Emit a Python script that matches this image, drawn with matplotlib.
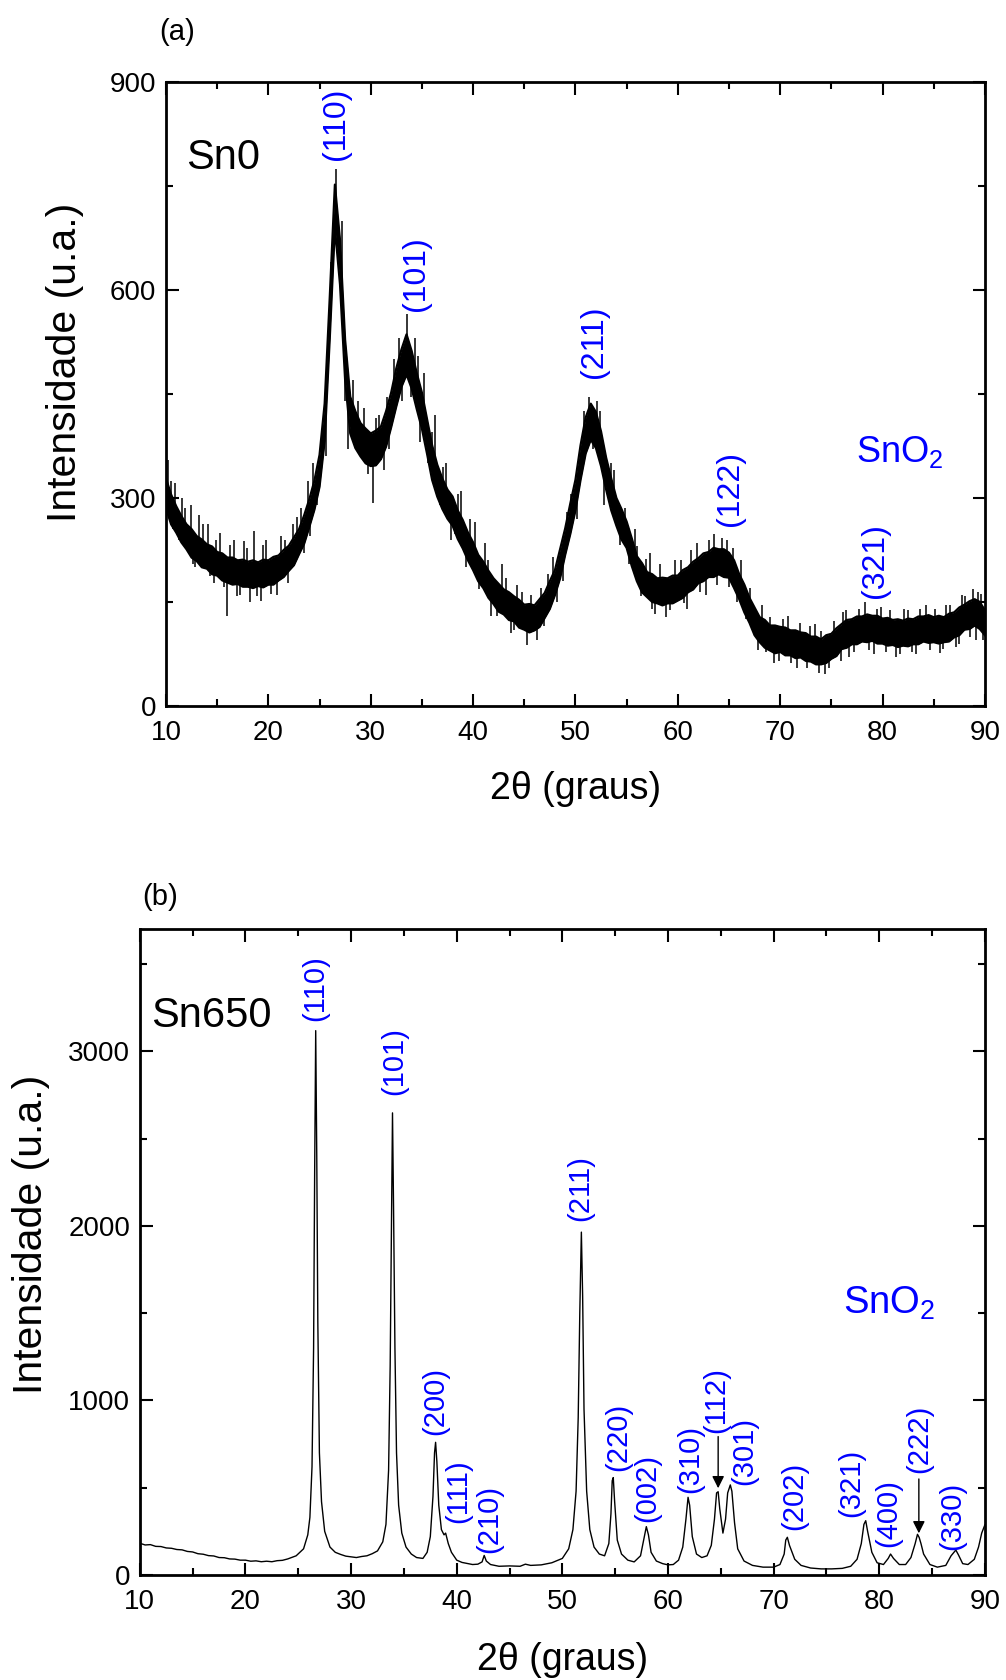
import numpy as np
import matplotlib
matplotlib.use("Agg")
import matplotlib.pyplot as plt

plt.rcParams['font.family'] = ['Liberation Sans', 'DejaVu Sans']
plt.rcParams['mathtext.fontset'] = 'custom'
plt.rcParams['mathtext.rm'] = 'Liberation Sans'
plt.rcParams['mathtext.it'] = 'Liberation Sans'

# ---- (a) Sn0 : noisy band, read as lower / upper edge every 0.5 deg (10 ... 90) ----
two_theta_a = np.arange(10.0, 90.01, 0.5)
low_a = [285, 262, 250, 236, 226, 214, 209, 200, 198, 190,
         188, 181, 178, 175, 176, 172, 172, 170, 173, 171,
         175, 175, 181, 186, 195, 203, 219, 234, 258, 283,
         316, 382, 530, 690, 608, 470, 393, 372, 360, 350,
         346, 347, 356, 374, 402, 432, 460, 478, 458, 428,
         400, 364, 326, 302, 284, 270, 260, 241, 227, 210,
         196, 180, 170, 156, 147, 136, 132, 124, 122, 113,
         110, 106, 109, 114, 127, 140, 160, 184, 218, 248,
         282, 326, 364, 384, 372, 346, 312, 282, 260, 240,
         228, 202, 180, 164, 157, 150, 148, 145, 148, 148,
         152, 156, 164, 168, 177, 180, 186, 186, 190, 186,
         185, 170, 154, 135, 120, 102, 92, 84, 80, 76,
         78, 73, 73, 69, 70, 65, 64, 60, 60, 62,
         68, 72, 82, 84, 89, 89, 93, 92, 94, 90,
         90, 87, 88, 85, 87, 86, 89, 89, 93, 91,
         92, 90, 92, 93, 99, 102, 110, 111, 116, 111,
         102]
high_a = [328, 305, 288, 274, 262, 255, 245, 240, 233, 230,
          222, 220, 214, 214, 210, 211, 208, 210, 207, 211,
          210, 215, 217, 225, 231, 243, 255, 275, 298, 325,
          362, 436, 590, 752, 672, 528, 446, 425, 408, 400,
          393, 397, 403, 425, 452, 487, 514, 536, 512, 480,
          452, 414, 376, 348, 328, 312, 302, 282, 268, 250,
          236, 218, 208, 195, 184, 176, 168, 164, 158, 153,
          146, 147, 145, 154, 163, 180, 196, 226, 256, 292,
          326, 376, 416, 436, 424, 396, 358, 328, 300, 284,
          266, 242, 216, 206, 193, 190, 184, 185, 184, 188,
          188, 196, 200, 208, 213, 220, 222, 228, 226, 226,
          221, 210, 190, 175, 156, 142, 128, 124, 116, 116,
          114, 113, 109, 109, 106, 105, 100, 100, 96, 102,
          104, 112, 118, 124, 125, 129, 129, 132, 130, 130,
          126, 127, 124, 125, 123, 126, 125, 129, 129, 131,
          128, 130, 128, 133, 135, 142, 146, 151, 154, 150,
          138]
# single noise spikes sticking out of the band: position and tip value
spike_x = [10.2, 10.9, 11.6, 12.4, 13.2, 14.1, 15.3, 16.6, 17.6, 18.6, 19.8, 21.2, 22.4,
           23.2, 23.9, 24.4, 25.2, 26.1, 26.6, 28.3, 29.3, 30.8, 31.6, 32.3, 33.5, 34.3,
           35.2, 36.3, 37.4, 38.8, 40.2, 41.2, 42.8, 44.3, 46.6, 47.8, 49.2, 50.8, 51.3,
           52.4, 53.8, 55.8, 57.3, 59.7, 61.9, 63.5, 64.8, 66.2, 68.2, 70.8, 73.4, 76.1,
           78.3, 79.9, 82.1, 84.2, 86.2, 87.8, 88.8, 89.6,
           10.7, 12.8, 14.7, 16.0, 16.9, 18.2, 19.3, 20.8, 24.8, 27.8, 30.2, 31.8, 34.8,
           37.8, 39.3, 41.8, 43.7, 45.3, 46.2, 48.8, 52.8, 55.2, 57.8, 58.8, 60.9, 62.8,
           65.8, 67.8, 69.4, 71.6, 73.8, 74.4, 76.7, 79.2, 81.3, 83.3, 85.6, 87.2, 89.1,
           10.45, 11.3, 11.9, 12.6, 13.6, 14.3, 14.9, 15.7, 16.3, 17.2, 17.9, 18.9, 19.5,
           20.3, 21.6, 21.9, 22.8, 23.5, 24.1, 25.6, 27.2, 27.5, 28.8, 29.7, 30.5, 31.3,
           32.8, 33.1, 33.9, 34.6, 35.6, 36.0, 36.8, 37.1, 38.2, 38.5, 39.7, 40.6, 41.5,
           42.3, 43.2, 44.0, 44.8, 45.7, 46.9, 47.3, 48.2, 49.6, 50.2, 51.7, 52.1, 53.2,
           53.5, 54.4, 54.8, 56.0, 56.4, 56.9, 57.5, 58.3, 59.2, 60.3, 60.6, 61.3, 62.2,
           63.0, 63.8, 64.3, 65.0, 65.4, 66.7, 67.1, 68.6, 69.0, 69.9, 70.3, 71.1, 71.9,
           72.6, 72.9, 74.0, 74.8, 75.3, 75.9, 76.4, 77.2, 77.7, 78.7, 79.5, 80.3, 80.7,
           81.7, 82.5, 82.9, 83.7, 84.6, 85.1, 85.9, 86.6, 87.5, 88.1, 88.5, 89.3, 89.8]
spike_tip = [355, 322, 300, 290, 275, 262, 250, 240, 238, 252, 240, 245, 262,
             285, 325, 350, 400, 640, 775, 470, 430, 420, 445, 500, 565, 530,
             480, 420, 350, 310, 265, 235, 205, 175, 170, 215, 280, 425, 445,
             425, 340, 255, 220, 210, 235, 248, 240, 210, 145, 130, 118, 135,
             150, 143, 140, 145, 145, 160, 168, 162,
             255, 200, 178, 130, 158, 150, 152, 160, 290, 370, 292, 370, 380,
             240, 200, 130, 105, 88, 95, 180, 290, 205, 132, 128, 140, 160,
             150, 80, 62, 55, 48, 46, 70, 75, 70, 75, 76, 85, 95,
             325, 240, 285, 205, 262, 188, 240, 172, 232, 160, 228, 158, 232,
             162, 240, 178, 272, 220, 245, 360, 700, 440, 440, 335, 415, 340,
             530, 440, 445, 505, 350, 395, 290, 345, 248, 305, 270, 168, 210,
             130, 185, 110, 165, 160, 115, 190, 150, 305, 270, 370, 440, 300,
             350, 232, 285, 230, 158, 212, 140, 205, 138, 210, 148, 225, 165,
             240, 175, 242, 172, 228, 125, 170, 78, 128, 65, 125, 62, 120,
             55, 115, 108, 55, 122, 65, 138, 78, 140, 80, 140, 78, 138,
             75, 138, 78, 140, 80, 140, 82, 145, 90, 158, 100, 165, 95]

hkl_a = ['(110)', '(101)', '(211)', '(122)', '(321)']
hkl_a_x = [26.65, 34.45, 51.8, 65.1, 79.25]
hkl_a_y = [788, 570, 473, 259, 156]

# ---- (b) Sn650 ----
two_theta_b = [10.0, 10.5, 11.0, 11.5, 12.0, 12.5, 13.0, 13.5, 14.0, 14.5, 15.0, 15.5, 16.0,
               16.5, 17.0, 17.5, 18.0, 18.5, 19.0, 19.5, 20.0, 20.5, 21.0, 21.5, 22.0, 22.5,
               23.0, 23.5, 24.0, 24.8,
               25.5, 25.9, 26.1, 26.3, 26.45, 26.55, 26.65, 26.75, 26.85, 27.0, 27.2, 27.5,
               28.0, 28.5, 29.0, 29.5, 30.0, 30.5, 31.0, 31.5, 32.0, 32.5, 33.0, 33.3, 33.55,
               33.7, 33.82, 33.92, 34.02, 34.15, 34.3, 34.5, 34.8, 35.2, 35.7, 36.2, 36.8,
               37.2, 37.5, 37.75, 37.9, 38.0, 38.12, 38.3, 38.55, 38.8, 38.95, 39.2, 39.5,
               40.0, 40.5, 41.0, 41.5, 42.0, 42.4, 42.6, 42.8, 43.2, 44.0, 45.0, 46.0, 46.5,
               47.0, 48.0, 49.0, 50.0, 50.6, 51.0, 51.3, 51.5, 51.65, 51.8, 51.92, 52.05,
               52.3, 52.6, 53.0, 53.5, 54.0, 54.4, 54.6, 54.72, 54.82, 54.95, 55.2, 55.6,
               56.2, 56.8, 57.4, 57.7, 57.95, 58.15, 58.4, 58.9, 59.5, 60.0, 60.5, 61.0,
               61.4, 61.7, 61.9, 62.05, 62.3, 62.7, 63.2, 63.7, 64.1, 64.4, 64.6, 64.75,
               64.9, 65.2, 65.45, 65.65, 65.9, 66.05, 66.3, 66.6, 67.2, 68.0, 69.0, 70.0,
               70.6, 71.0, 71.15, 71.3, 71.5, 72.0, 72.6, 73.5, 74.5, 75.5, 76.5, 77.3,
               77.9, 78.3, 78.55, 78.72, 78.9, 79.3, 79.8, 80.4, 80.85, 81.07, 81.35, 81.9,
               82.5, 83.0, 83.4, 83.62, 83.78, 83.95, 84.2, 84.8, 85.5, 86.3, 86.8, 87.25,
               87.5, 87.9, 88.4, 89.0, 89.4, 89.7, 90.0]
intensity_b = [182, 172, 174, 164, 163, 155, 153, 146, 144, 135, 132, 122, 119,
               111, 109, 100, 99, 92, 91, 85, 85, 79, 81, 76, 79, 76,
               82, 84, 92, 110,
               150, 230, 330, 620, 1300, 2300, 3118, 2400, 1450, 700, 420, 250,
               160, 130, 118, 108, 104, 100, 106, 110, 122, 138, 190, 290, 600,
               1200, 2000, 2647, 2100, 1300, 700, 400, 240, 160, 120, 100, 95,
               130, 220, 450, 700, 760, 650, 400, 260, 230, 240, 180, 130,
               85, 72, 66, 60, 62, 75, 112, 80, 60, 50, 52, 50, 62,
               55, 58, 70, 95, 150, 260, 480, 900, 1500, 1964, 1600, 950,
               480, 260, 160, 120, 110, 180, 350, 540, 558, 420, 200, 120,
               85, 75, 110, 200, 277, 230, 130, 80, 65, 58, 60, 85,
               160, 320, 445, 400, 220, 120, 100, 110, 170, 320, 470, 477,
               380, 240, 320, 470, 516, 480, 300, 150, 80, 55, 45, 45,
               60, 120, 200, 216, 170, 90, 55, 40, 35, 35, 38, 50,
               90, 180, 290, 311, 250, 130, 70, 60, 95, 120, 95, 60,
               60, 100, 180, 233, 215, 180, 120, 60, 45, 55, 110, 143,
               115, 65, 60, 90, 160, 240, 287]

hkl_b = ['(110)', '(101)', '(200)', '(111)', '(210)', '(211)', '(220)', '(002)', '(310)',
         '(112)', '(301)', '(202)', '(321)', '(400)', '(222)', '(330)']
hkl_b_x = [26.64, 34.1, 38.0, 40.1, 43.05, 51.7, 55.3, 58.03, 62.07, 64.6, 67.18, 72.0,
           77.38, 80.85, 83.78, 86.94]
hkl_b_y = [3172, 2748, 800, 298, 126, 2028, 595, 306, 468, 812, 516, 258, 334, 162, 583, 143]
# arrows pointing at (112) and (222): x, start, tip
arrow_x = [64.75, 83.75]
arrow_from = [793, 550]
arrow_to = [497, 239]

blue = '#0000ff'

fig = plt.figure(figsize=(10.06, 16.8), dpi=100)
ax1 = fig.add_axes([0.165, 0.5798, 0.814, 0.3714])
ax2 = fig.add_axes([0.139, 0.0625, 0.840, 0.3845])


def style(ax, ymax, ystep):
    ax.set_xlim(10, 90)
    ax.set_ylim(0, ymax)
    ax.set_xticks(np.arange(10, 91, 10))
    ax.set_xticks(np.arange(15, 90, 10), minor=True)
    ax.set_yticks(np.arange(0, ymax + 1, ystep))
    ax.set_yticks(np.arange(ystep / 2, ymax, ystep), minor=True)
    ax.tick_params(which='both', direction='in', top=True, right=True, width=1.5,
                   labelsize=20)
    ax.tick_params(axis='x', pad=10)
    ax.tick_params(axis='y', pad=7)
    ax.tick_params(which='major', length=9)
    ax.tick_params(which='minor', length=5)
    for s in ax.spines.values():
        s.set_linewidth(2)
    ax.set_xlabel('2θ (graus)', fontsize=27)
    ax.set_ylabel('Intensidade (u.a.)', fontsize=29.5)


# panel (a)
center_a = (np.array(low_a) + np.array(high_a)) / 2
ax1.fill_between(two_theta_a, low_a, high_a, color='black', lw=0)
ax1.plot(two_theta_a, low_a, color='black', lw=1.6)
ax1.plot(two_theta_a, high_a, color='black', lw=1.6)
ax1.vlines(spike_x, np.interp(spike_x, two_theta_a, center_a), spike_tip, color='black', lw=1.1)
style(ax1, 900, 300)
ax1.xaxis.set_label_coords(0.5, -0.105)
ax1.yaxis.set_label_coords(-0.10, 0.55)
for lab, x, y in zip(hkl_a, hkl_a_x, hkl_a_y):
    ax1.text(x, y, lab, rotation=90, ha='center', va='bottom', color=blue, fontsize=23)
ax1.text(11.95, 791, 'Sn0', fontsize=30, va='center', ha='left')
ax1.text(77.4, 366, 'SnO$_2$', fontsize=26, va='center', ha='left', color=blue)
ax1.text(0.013, 1.08, '(a)', transform=ax1.transAxes, fontsize=21, ha='center', va='center')

# panel (b)
ax2.plot(two_theta_b, intensity_b, color='black', lw=1)
style(ax2, 3700, 1000)
ax2.xaxis.set_label_coords(0.5, -0.104)
ax2.yaxis.set_label_coords(-0.106, 0.527)
for lab, x, y in zip(hkl_b, hkl_b_x, hkl_b_y):
    ax2.text(x, y, lab, rotation=90, ha='center', va='bottom', color=blue, fontsize=21)
for x, y0, y1 in zip(arrow_x, arrow_from, arrow_to):
    ax2.annotate('', xy=(x, y1), xytext=(x, y0),
                 arrowprops=dict(arrowstyle='-|>', color='black', lw=1,
                                 mutation_scale=18, shrinkA=0, shrinkB=0))
ax2.text(11.1, 3203, 'Sn650', fontsize=30, va='center', ha='left')
ax2.text(76.6, 1557, 'SnO$_2$', fontsize=27.5, va='center', ha='left', color=blue)
ax2.text(0.024, 1.0495, '(b)', transform=ax2.transAxes, fontsize=21, ha='center', va='center')

fig.savefig('out.png', dpi=100)
